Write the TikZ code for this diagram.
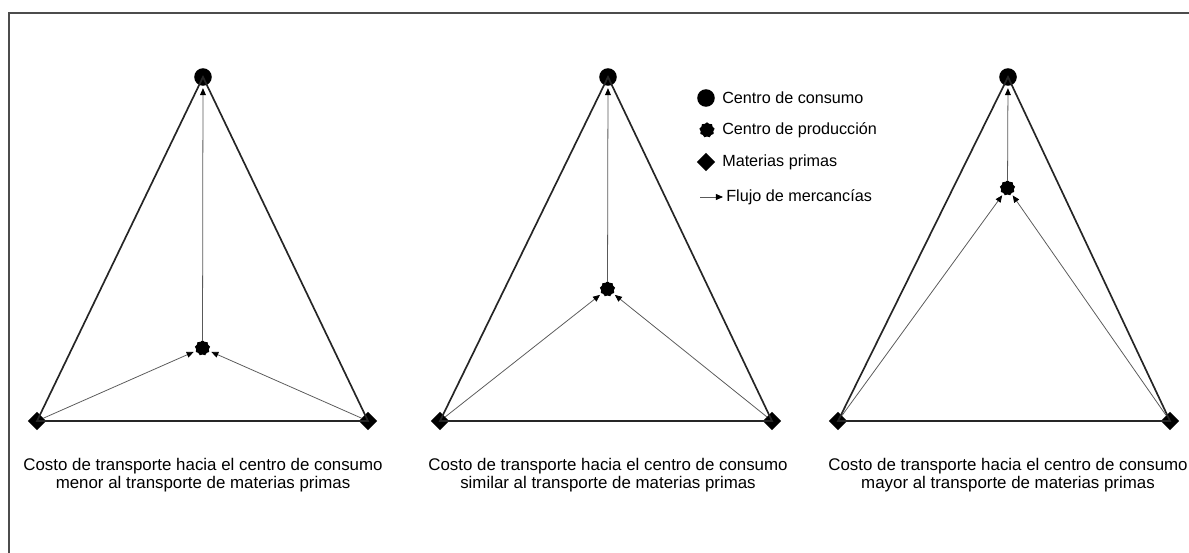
\documentclass[tikz,border=0pt]{standalone}
\usepackage{fontspec}
\setmainfont{Liberation Sans}
\usetikzlibrary{shapes.geometric,arrows.meta,positioning}

\tikzset{
    consumo/.style={circle, fill=black, inner sep=0pt, minimum size=12.5pt},
    produccion/.style={star, star points=9, star point ratio=1.2, fill=black, inner sep=0pt, minimum size=11pt},
    materia/.style={diamond, fill=black, inner sep=0pt, minimum size=13pt},
    lado/.style={line width=1.2pt, black!85},
    flujo/.style={line width=0.55pt, black!65, -{Triangle[length=5pt,width=4.2pt,black]}, shorten >=1.5pt},
    leyenda/.style={anchor=west, font=\fontsize{11.5}{13}\selectfont, inner sep=0pt},
    nota/.style={align=center, font=\fontsize{12}{12.8}\selectfont}
}

\begin{document}
\begin{tikzpicture}[x=0.025cm, y=-0.025cm]
    \useasboundingbox (0,0) rectangle (1189,552);
    % Frame (only top and left edges visible)
    \draw [line width=1.2pt, black!70] (9,560) -- (9,13) -- (1200,13);

    % Panels: index / x of top / x left / x right / y of production centre
    \foreach \i/\xc/\xa/\xb/\yp in {1/203/37/368/348, 2/608/440/772/289, 3/1008/838/1170/188} {
        \node [consumo] (c\i) at (\xc,77) {};
        \node [materia] (a\i) at (\xa,421) {};
        \node [materia] (b\i) at (\xb,421) {};
        \node [produccion] (p\i) at (\xc-0.5,\yp) {};
        \draw [lado] (c\i.center) -- (a\i.center) -- (b\i.center) -- cycle;
        \draw [flujo] (a\i) -- (p\i);
        \draw [flujo] (b\i) -- (p\i);
        \draw [flujo] (p\i) -- (c\i);
    }

    % Captions
    \node [nota] (t1) at (203,475) {Costo de transporte hacia el centro de consumo\\menor al transporte de materias primas};
    \node [nota] (t2) at (608,475) {Costo de transporte hacia el centro de consumo\\similar al transporte de materias primas};
    \node [nota] (t3) at (1008,475) {Costo de transporte hacia el centro de consumo\\mayor al transporte de materias primas};

    % Legend
    \node [consumo] (lc) at (706,98) {};
    \node [produccion] (lp) at (707,130) {};
    \node [materia] (lm) at (706,162) {};
    \coordinate (lf0) at (700,197);
    \coordinate (lf1) at (723,197);
    \draw [flujo, shorten >=0pt] (lf0) -- (lf1);
    \node [leyenda] (tc) at (722,98) {Centro de consumo};
    \node [leyenda] (tp) at (722,130) {Centro de producción};
    \node [leyenda] (tm) at (722,162) {Materias primas};
    \node [leyenda] (tf) at (726,197) {Flujo de mercancías};
\end{tikzpicture}
\end{document}
